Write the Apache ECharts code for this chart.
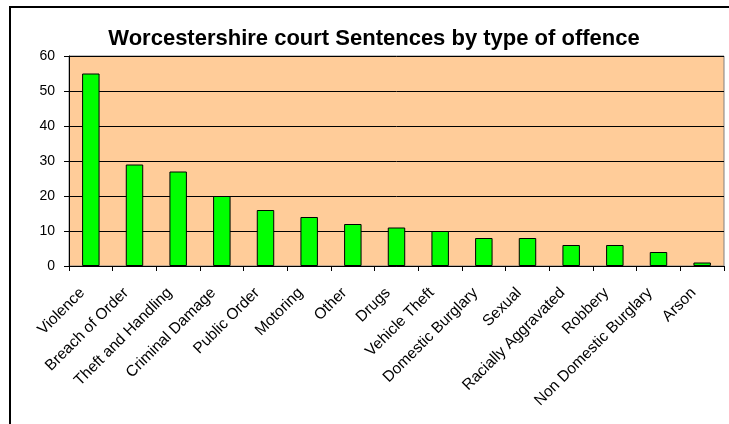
<!DOCTYPE html>
<html>
<head>
<meta charset="utf-8">
<script src="https://cdn.jsdelivr.net/npm/echarts@6/dist/echarts.min.js"></script>
<style>
  html, body { margin: 0; padding: 0; background: #fff; }
  #chart { width: 729px; height: 424px; }
</style>
</head>
<body>
<div id="chart"></div>
<script>
var offences = ['Violence', 'Breach of Order', 'Theft and Handling', 'Criminal Damage',
    'Public Order', 'Motoring', 'Other', 'Drugs', 'Vehicle Theft', 'Domestic Burglary',
    'Sexual', 'Racially Aggravated', 'Robbery', 'Non Domestic Burglary', 'Arson'];
var sentences = [55, 29, 27, 20, 16, 14, 12, 11, 10, 8, 8, 6, 6, 4, 1];
var yTicks = [0, 10, 20, 30, 40, 50, 60];

var chart = echarts.init(document.getElementById('chart'));

var option = {
    animation: false,
    textStyle: { fontFamily: 'Liberation Sans, Arial, sans-serif' },
    title: {
        text: 'Worcestershire court Sentences by type of offence',
        left: 369,
        top: 23,
        textAlign: 'center',
        textStyle: { fontSize: 22, fontWeight: 'bold', color: '#000' }
    },
    // outer chart border (runs past the right and bottom edge)
    graphic: [{
        type: 'rect',
        shape: { x: 10, y: 7, width: 760, height: 460 },
        style: { fill: 'none', stroke: '#000', lineWidth: 2 },
        silent: true
    }],
    grid: {
        left: 69, right: 5, top: 56, bottom: 158,
        show: true,
        backgroundColor: '#FFCC99',
        borderColor: '#808080',
        borderWidth: 1
    },
    xAxis: {
        type: 'category',
        data: offences,
        axisLine: { lineStyle: { color: '#000', width: 1 } },
        axisTick: { show: true, length: 5, lineStyle: { color: '#000' } },
        axisLabel: {
            rotate: 45, fontSize: 15.5, color: '#000', margin: 16, interval: 0,
            padding: [0, 12, 0, 0]
        }
    },
    yAxis: {
        type: 'value',
        min: yTicks[0],
        max: yTicks[yTicks.length - 1],
        interval: 10,
        axisLine: { show: true, lineStyle: { color: '#000', width: 1 } },
        axisTick: { show: true, length: 5, lineStyle: { color: '#000' } },
        axisLabel: { fontSize: 14, color: '#000', margin: 14 },
        splitLine: { lineStyle: { color: '#000', width: 1 } }
    },
    series: [{
        type: 'bar',
        data: sentences,
        barWidth: '40%',
        itemStyle: { color: '#00FF00', borderColor: '#000', borderWidth: 1 }
    }]
};

chart.setOption(option);
</script>
</body>
</html>
